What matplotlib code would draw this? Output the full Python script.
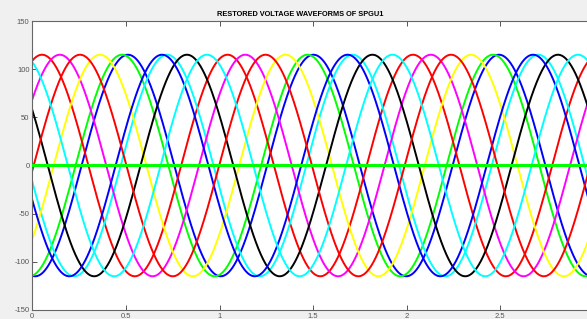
import numpy as np
import matplotlib
matplotlib.use("Agg")
import matplotlib.pyplot as plt

# waveform parameters
amplitude = 115.0
period = 0.991
peak_times = [0.511, 0.479, 0.052, 0.720, 0.147, 0.362, 0.826, 0.693, 0.255, 0.933]
colors = ["#0000ff", "#00ff00", "#ff0000", "#00ffff", "#ff00ff",
          "#ffff00", "#000000", "#0000ff", "#ff0000", "#00ffff"]

x_ticks = [0, 0.5, 1, 1.5, 2, 2.5]
x_labels = ["0", "0.5", "1", "1.5", "2", "2.5"]
y_ticks = [-150, -100, -50, 0, 50, 100, 150]
y_labels = ["-150", "-100", "-50", "0", "50", "100", "150"]

t = np.linspace(0, 3, 3001)

plt.rcParams["font.family"] = ["Liberation Sans", "DejaVu Sans"]

fig = plt.figure(figsize=(5.87, 3.19), dpi=100, facecolor="#f0f0f0")
W, H = 587, 319
left, right, top, bottom = 32.3, 593.9, 21, 310
ax = fig.add_axes([left / W, (H - bottom) / H, (right - left) / W, (bottom - top) / H])

for pk, c in zip(peak_times, colors):
    ax.plot(t, amplitude * np.cos(2 * np.pi * (t - pk) / period), color=c, lw=1.4)
ax.plot(t, np.zeros_like(t), color="#00ff00", lw=2.2, zorder=5)

ax.set_xlim(0, 3)
ax.set_ylim(-150, 150)
ax.set_xticks(x_ticks)
ax.set_xticklabels(x_labels)
ax.set_yticks(y_ticks)
ax.set_yticklabels(y_labels)
ax.tick_params(direction="in", length=3.5, width=0.7, colors="#555555",
               labelsize=5.5, top=True, right=True, pad=2)
for s in ax.spines.values():
    s.set_color("#666666")
    s.set_linewidth(0.8)

fig.text(300 / W, 1 - 14 / H, "RESTORED VOLTAGE WAVEFORMS OF SPGU1",
         ha="center", va="center", fontsize=5.3, fontweight="bold")

fig.savefig("out.png", dpi=100, facecolor=fig.get_facecolor())
